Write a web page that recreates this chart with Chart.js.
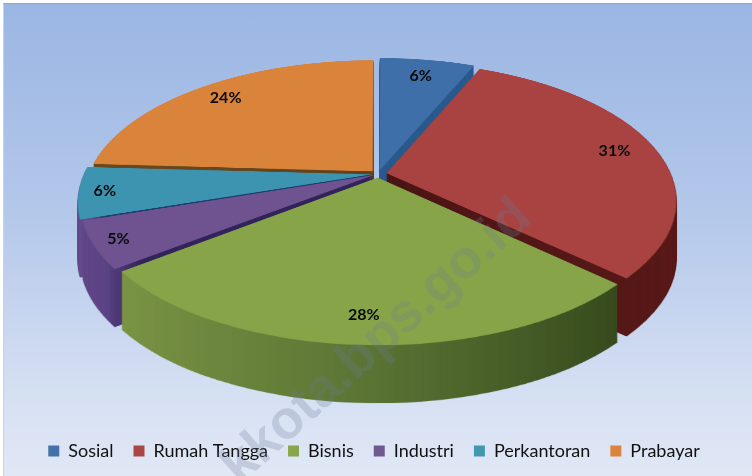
<!DOCTYPE html>
<html><head><meta charset="utf-8">
<style>
html,body{margin:0;padding:0;background:#fff;width:752px;height:476px;overflow:hidden}
#bg{position:absolute;left:3px;top:3px;width:749px;height:473px;box-sizing:border-box;border-top:1px solid #a8a8a8;border-left:1px solid #d0d0d0;background:linear-gradient(180deg,#9ab6e3 0%,#b4c8ea 45%,#d8e1f3 85%,#e0e8f6 100%)}
#wrap{position:absolute;left:0;top:0;width:752px;height:476px}
</style></head><body>
<div id="bg"></div>
<div id="wrap"><canvas id="c" width="752" height="476"></canvas></div>
<script src="https://cdn.jsdelivr.net/npm/chart.js@4"></script>
<script>
const categories = ["Sosial","Rumah Tangga","Bisnis","Industri","Perkantoran","Prabayar"];
const shares = [6.4,30.6,27.5,5.4,6.0,24.1];
const explode = [8,9,8,5,6.5,8];
const labelRadius = [0.85,0.85,0.85,0.93,0.925,0.85];
const topColors = ["#3f6fa8","#a84341","#87a548","#6f5290","#3d94b0","#d9833b"];
const legendColors = ["#4472a8","#aa4644","#89a54e","#71588f","#4198af","#db843d"];
const wallStops = [
  [[0,"#2a5a8d"],[1,"#2a5a8d"]],
  [[0,"#3c1010"],[1,"#5a1b1a"]],
  [[0.12,"#7c9546"],[0.5,"#5c7636"],[0.95,"#33441a"]],
  [[0.03,"#654a8c"],[0.11,"#5c4484"],[0.16,"#33245c"],[1,"#33245c"]],
  [[0,"#654a8c"],[0.06,"#654a8c"],[0.08,"#1f3f6e"],[1,"#1f3f6e"]],
  [[0,"#6a4a20"],[1,"#5a3d1a"]]
];
const R = 295, S = 720, DEPTH = 58;
const X0 = 378, Y0 = 174;
const PX = 284, PY = 133.6, U = -0.193;

function project(X, Y) {
  const t = Y / R, w = 1 + U * t;
  return { x: X0 + PX * (X / R) / w, y: Y0 + PY * t / w };
}
function warp(src) {
  const out = document.createElement("canvas");
  out.width = 752; out.height = 476;
  const g = out.getContext("2d");
  g.imageSmoothingEnabled = true;
  const tOf = dy => dy / (PY - U * dy);
  for (let y = 0; y < 476; y++) {
    const dy = y - Y0;
    if (PY - U * dy <= 0) continue;
    const t0 = tOf(dy), t1 = tOf(dy + 1);
    if (t0 < -1.15 || t1 > 1.15) continue;
    const tm = (t0 + t1) / 2, s = (PX / R) / (1 + U * tm);
    g.drawImage(src, 0, S / 2 + t0 * R, S, (t1 - t0) * R, X0 - S / 2 * s, y, S * s, 1);
  }
  return out;
}
function flat(chart, colorFor) {
  const c = document.createElement("canvas");
  c.width = S; c.height = S;
  const g = c.getContext("2d");
  chart.getDatasetMeta(0).data.forEach((arc, i) => {
    const o = arc.options;
    const view = Object.create(o);
    view.backgroundColor = colorFor(g, i);
    view.borderWidth = 0;
    arc.options = view;
    g.save();
    g.translate(S / 2 - arc.x, S / 2 - arc.y);
    arc.draw(g);
    g.restore();
    arc.options = o;
  });
  return c;
}
const pie3d = {
  id: "pie3d",
  beforeDatasetDraw() { return false; },
  afterDatasetsDraw(chart) {
    const ctx = chart.ctx;
    const wallSrc = flat(chart, (g, i) => {
      const lg = g.createLinearGradient(S / 2 - R, 0, S / 2 + R, 0);
      wallStops[i].forEach(s => lg.addColorStop(s[0], s[1]));
      return lg;
    });
    const topSrc = flat(chart, (g, i) => topColors[i]);
    const wall = warp(wallSrc), top = warp(topSrc);
    ctx.save();
    ctx.filter = "blur(0.5px)";
    for (let d = DEPTH; d >= 1; d--) ctx.drawImage(wall, 0, d);
    ctx.drawImage(top, 0, 0);
    ctx.filter = "none";
    // data labels
    ctx.fillStyle = "#0a0a0a";
    ctx.font = "bold 16px Lato";
    ctx.textAlign = "center";
    ctx.textBaseline = "middle";
    const total = shares.reduce((a, b) => a + b, 0);
    chart.getDatasetMeta(0).data.forEach((arc, i) => {
      const a = (arc.startAngle + arc.endAngle) / 2;
      const r = labelRadius[i] * R + explode[i];
      const p = project(r * Math.cos(a), r * Math.sin(a));
      ctx.fillText(Math.round(shares[i] / total * 100) + "%", p.x, p.y);
    });
    // watermark
    ctx.translate(377, 342);
    ctx.rotate(-42 * Math.PI / 180);
    ctx.font = "bold 54px 'Liberation Sans'";
    ctx.fillStyle = "rgba(110,125,150,0.26)";
    ctx.textAlign = "center";
    ctx.fillText("kkota.bps.go.id", 0, 0);
    ctx.restore();
  }
};
new Chart(document.getElementById("c"), {
  type: "pie",
  data: { labels: categories, datasets: [{
    data: shares,
    backgroundColor: legendColors,
    borderWidth: 0,
    radius: R,
    offset: explode.map(v => v * 4)
  }]},
  options: {
    responsive: false,
    animation: false,
    events: [],
    radius: R,
    layout: { padding: { bottom: 6, right: 4 } },
    plugins: {
      tooltip: { enabled: false },
      legend: {
        position: "bottom",
        labels: { boxWidth: 11, boxHeight: 11, padding: 20, color: "#111", font: { family: "Lato", size: 18 } }
      }
    }
  },
  plugins: [pie3d]
});
</script>
</body></html>
